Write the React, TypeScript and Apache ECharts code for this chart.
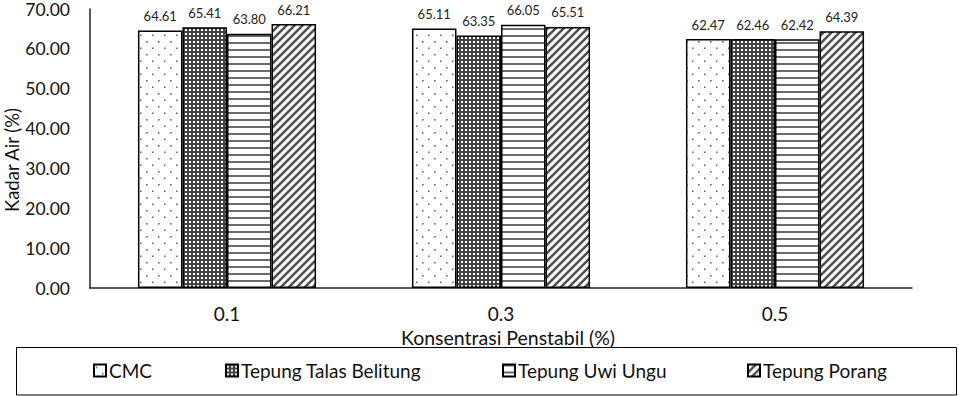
import React, { useEffect, useRef } from "react";
import * as echarts from "echarts";

const categories = ["0.1", "0.3", "0.5"];
const seriesNames = ["CMC", "Tepung Talas Belitung", "Tepung Uwi Ungu", "Tepung Porang"];
const cmc = [64.61, 65.11, 62.47];
const talas = [65.41, 63.35, 62.46];
const uwi = [63.8, 66.05, 62.42];
const porang = [66.21, 65.51, 64.39];
const yTicks = [0, 10, 20, 30, 40, 50, 60, 70];

const FONT = "Lato";

function makeCanvas(w: number, h: number, draw: (ctx: CanvasRenderingContext2D) => void) {
  const c = document.createElement("canvas");
  c.width = w;
  c.height = h;
  const ctx = c.getContext("2d")!;
  ctx.fillStyle = "#ffffff";
  ctx.fillRect(0, 0, w, h);
  draw(ctx);
  return c;
}

function buildPatterns() {
  const dots = makeCanvas(12, 13, (ctx) => {
    ctx.fillStyle = "#6a6a6a";
    ctx.fillRect(2, 2, 1.6, 1.6);
    ctx.fillRect(8, 8.5, 1.6, 1.6);
  });
  const dense = makeCanvas(4, 4, (ctx) => {
    ctx.fillStyle = "#444444";
    ctx.fillRect(0, 0, 4, 4);
    ctx.fillStyle = "#ffffff";
    ctx.fillRect(1, 1, 2, 2);
  });
  const horiz = makeCanvas(4, 7, (ctx) => {
    ctx.fillStyle = "#6a6a6a";
    ctx.fillRect(0, 0, 4, 2);
  });
  const diag = makeCanvas(8, 8, (ctx) => {
    ctx.strokeStyle = "#505050";
    ctx.lineWidth = 2.6;
    ctx.beginPath();
    ctx.moveTo(-2, 10);
    ctx.lineTo(10, -2);
    ctx.moveTo(-2, 2);
    ctx.lineTo(2, -2);
    ctx.moveTo(6, 10);
    ctx.lineTo(10, 6);
    ctx.stroke();
  });
  return [dots, dense, horiz, diag];
}

export default function App() {
  const ref = useRef<HTMLDivElement>(null);

  useEffect(() => {
    document.body.style.margin = "0";
    if (!ref.current) return;
    const chart = echarts.init(ref.current, null, { renderer: "svg" });
    const pats = buildPatterns();
    const dataSets = [cmc, talas, uwi, porang];
    const legendLefts = [93, 225, 502, 747];

    const series = seriesNames.map((name, i) => ({
      name,
      type: "bar",
      data: dataSets[i],
      barGap: "0%",
      barCategoryGap: "35%",
      itemStyle: {
        color: { image: pats[i], repeat: "repeat" },
        borderColor: "#000000",
        borderWidth: 1.5,
      },
      label: {
        show: true,
        position: "top",
        distance: 8,
        fontFamily: FONT,
        fontSize: 13,
        color: "#222222",
        formatter: (p: any) => Number(p.value).toFixed(2),
      },
    }));

    const legends = seriesNames.map((name, i) => ({
      data: [name],
      left: legendLefts[i],
      top: 361,
      orient: "horizontal",
      itemWidth: 12,
      itemHeight: 12,
      padding: 0,
      selectedMode: false,
      icon: "rect",
      textStyle: { fontFamily: FONT, fontSize: 19, color: "#111111", padding: [0, 0, 0, -2] },
    }));

    chart.setOption({
      animation: false,
      backgroundColor: "#ffffff",
      grid: { left: 90, right: 47, top: 9, bottom: 108, containLabel: false },
      xAxis: {
        type: "category",
        data: categories,
        axisLine: { show: true, lineStyle: { color: "#222222", width: 1.5 } },
        axisTick: { show: false },
        axisLabel: { fontFamily: FONT, fontSize: 19, color: "#111111", margin: 16 },
        splitLine: { show: false },
      },
      yAxis: {
        type: "value",
        min: yTicks[0],
        max: yTicks[yTicks.length - 1],
        interval: 10,
        axisLine: { show: true, lineStyle: { color: "#222222", width: 1.5 } },
        axisTick: { show: false },
        splitLine: { show: false },
        axisLabel: {
          fontFamily: FONT,
          fontSize: 17.5,
          lineHeight: 14,
          color: "#111111",
          margin: 20,
          formatter: (v: number) => v.toFixed(2),
        },
      },
      legend: legends,
      graphic: [
        {
          type: "rect",
          shape: { x: 16.5, y: 347.5, width: 940, height: 47.5 },
          style: { fill: "none", stroke: "#000000", lineWidth: 1 },
          silent: true,
        },
        {
          type: "text",
          x: 12,
          y: 160,
          rotation: Math.PI / 2,
          style: {
            text: "Kadar Air (%)",
            fontFamily: FONT,
            fontSize: 18.5,
            fill: "#111111",
            textAlign: "center",
            textVerticalAlign: "middle",
          },
        },
        {
          type: "text",
          x: 508,
          y: 337,
          style: {
            text: "Konsentrasi Penstabil (%)",
            fontFamily: FONT,
            fontSize: 19.5,
            fill: "#111111",
            textAlign: "center",
            textVerticalAlign: "middle",
          },
        },
      ],
      series,
    } as any);

    return () => chart.dispose();
  }, []);

  return (
    <div
      ref={ref}
      style={{ width: 959, height: 396, position: "fixed", left: 0, top: 0 }}
    />
  );
}
